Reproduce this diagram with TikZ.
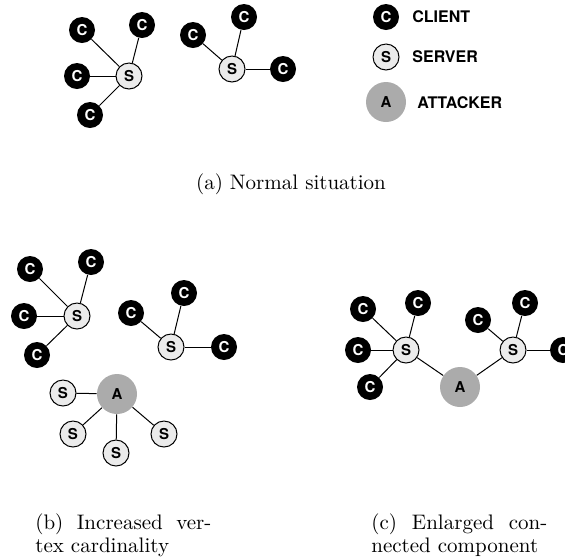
\documentclass[tikz,border=0pt]{standalone}
\usepackage{fontspec}
\setsansfont{TeX Gyre Heros}
\usepackage{xcolor}
\usepackage{tikz}
\usetikzlibrary{positioning}
\tikzset{
  cli/.style={circle, fill=black, text=white, inner sep=0pt, minimum size=13pt, font=\sffamily\bfseries\fontsize{7.5}{8}\selectfont},
  srv/.style={circle, draw, fill=black!8, line width=0.5pt, inner sep=0pt, minimum size=13pt, font=\sffamily\bfseries\fontsize{7.5}{8}\selectfont},
  atk/.style={circle, fill=black!33, inner sep=0pt, minimum size=20pt, font=\sffamily\bfseries\fontsize{7.5}{8}\selectfont},
  lnk/.style={line width=0.5pt},
  leg/.style={anchor=west, inner sep=0pt, font=\sffamily\bfseries\fontsize{8}{9}\selectfont},
  captxt/.style={inner sep=0pt, font=\rmfamily\fontsize{10.5}{11.5}\selectfont},
}

\begin{document}
\begin{tikzpicture}[x=0.5pt, y=-0.5pt]
  \useasboundingbox (0,0) rectangle (565,559);
  % (a) normal situation
  \node[srv] (sa1) at (129,76) {S};
  \foreach \n/\x/\y in {1/82/30, 2/142/25, 3/77/76, 4/90/115} {
    \node[cli] (ca1\n) at (\x,\y) {C};
    \draw[lnk] (sa1) -- (ca1\n); }
  \node[srv] (sa2) at (232,69) {S};
  \foreach \n/\x/\y in {1/193/35, 2/244/17, 3/283/69} {
    \node[cli] (ca2\n) at (\x,\y) {C};
    \draw[lnk] (sa2) -- (ca2\n); }
  \node[captxt, anchor=base] (capa) at (291,189) {(a) Normal situation};
  % legend
  \node[cli] (lgc) at (386,17) {C};
  \node[srv] (lgs) at (386,57) {S};
  \node[atk] (lga) at (386,102) {A};
  \node[leg] at (412,17) {CLIENT};
  \node[leg] at (412,57) {SERVER};
  \node[leg] at (417,103) {ATTACKER};
  % (b) increased vertex cardinality
  \node[srv] (sb1) at (77,316) {S};
  \foreach \n/\x/\y in {1/30/269, 2/91/262, 3/24/316, 4/37/355} {
    \node[cli] (cb1\n) at (\x,\y) {C};
    \draw[lnk] (sb1) -- (cb1\n); }
  \node[srv] (sb2) at (171,347) {S};
  \foreach \n/\x/\y in {1/131/313, 2/184/293, 3/224/347} {
    \node[cli] (cb2\n) at (\x,\y) {C};
    \draw[lnk] (sb2) -- (cb2\n); }
  \node[atk] (ab) at (117,394) {A};
  \foreach \n/\x/\y in {1/63/393, 2/73/434, 3/116/453, 4/164/434} {
    \node[srv] (sb3\n) at (\x,\y) {S};
    \draw[lnk] (ab) -- (sb3\n); }
  \node[captxt, text width=88pt, align=justify, anchor=north west] (capb) at (35,513)
    {(b) Increased ver-\linebreak tex cardinality};
  % (c) enlarged connected component
  \node[srv] (sc1) at (406,350) {S};
  \foreach \n/\x/\y in {1/363/309, 2/418/303, 3/358/350, 4/370/387} {
    \node[cli] (cc1\n) at (\x,\y) {C};
    \draw[lnk] (sc1) -- (cc1\n); }
  \node[atk] (ac) at (460,387) {A};
  \node[srv] (sc2) at (513,350) {S};
  \foreach \n/\x/\y in {1/478/320, 2/525/303, 3/563/350} {
    \node[cli] (cc2\n) at (\x,\y) {C};
    \draw[lnk] (sc2) -- (cc2\n); }
  \draw[lnk] (sc1) -- (ac) -- (sc2);
  \node[captxt, text width=88pt, align=justify, anchor=north west] (capc) at (371,513)
    {(c) Enlarged con-\linebreak nected component};
\end{tikzpicture}
\end{document}
